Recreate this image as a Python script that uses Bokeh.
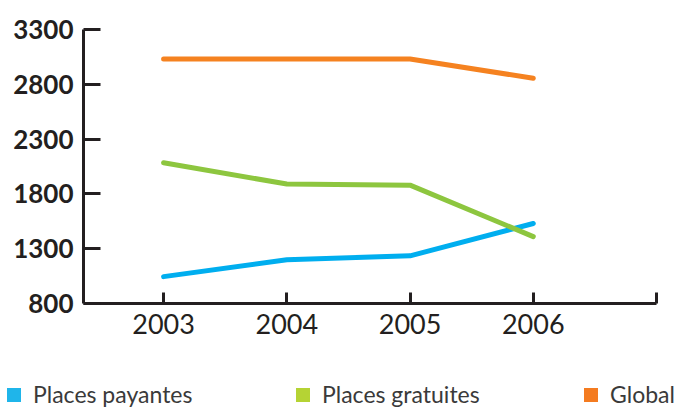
from bokeh.plotting import figure
from bokeh.models import FixedTicker, Range1d, Div
from bokeh.layouts import column
from bokeh.embed import file_html
from bokeh.resources import INLINE

years = [2003, 2004, 2005, 2006]
payantes = [1045, 1200, 1235, 1530]
gratuites = [2085, 1890, 1880, 1410]
global_vals = [3030, 3030, 3030, 2855]
y_ticks = [800, 1300, 1800, 2300, 2800, 3300]
x_ticks = [2003, 2004, 2005, 2006, 2007]
series_names = ["Places payantes", "Places gratuites", "Global"]
line_colors = ["#00aeef", "#8dc63f", "#f58220"]
legend_colors = ["#1fb5ea", "#b5d334", "#f47b20"]
legend_x = [7, 296, 584]  # swatch left edges (layout only)

FONT = "Lato"
INK = "#231f20"

p = figure(width=672, height=360, output_backend="svg", toolbar_location=None,
           x_range=Range1d(2002.35, 2007), y_range=Range1d(800, 3300),
           min_border_left=83, min_border_right=16, min_border_top=29, min_border_bottom=57)
p.outline_line_color = None
p.xgrid.visible = False
p.ygrid.visible = False

for vals, c in zip([payantes, gratuites, global_vals], line_colors):
    p.line(years, vals, line_color=c, line_width=5, line_cap="round", line_join="round")

xa = p.xaxis[0]
xa.ticker = FixedTicker(ticks=x_ticks)
xa.major_label_overrides = {2007: ""}
xa.major_tick_in = 11
xa.major_tick_out = 0
xa.minor_tick_line_color = None
xa.axis_line_width = 3
xa.axis_line_color = INK
xa.major_tick_line_width = 3
xa.major_tick_line_color = INK
xa.major_label_text_font = FONT
xa.major_label_text_font_size = "27px"
xa.major_label_text_color = INK
xa.major_label_standoff = 10

ya = p.yaxis[0]
ya.ticker = FixedTicker(ticks=y_ticks)
ya.major_tick_in = 17
ya.major_tick_out = 0
ya.minor_tick_line_color = None
ya.axis_line_width = 3
ya.axis_line_color = INK
ya.major_tick_line_width = 3
ya.major_tick_line_color = INK
ya.major_label_text_font = FONT
ya.major_label_text_font_size = "26px"
ya.major_label_text_font_style = "bold"
ya.major_label_text_color = INK
ya.major_label_standoff = 10

# legend row
parts = []
for name, c, x0 in zip(series_names, legend_colors, legend_x):
    parts.append(
        f'<span style="position:absolute;left:{x0}px;top:28px;width:14px;height:14px;'
        f'background:{c};"></span>'
        f'<span style="position:absolute;left:{x0 + 26}px;top:23px;font-family:Lato;'
        f'font-size:23px;line-height:23px;color:#3a3a3a;white-space:nowrap;">{name}</span>'
    )
html = ('<div style="position:relative;width:672px;height:42px;overflow:visible;">'
        + "".join(parts) + "</div>")
lg = Div(text=html, width=672, height=42, margin=(0, 0, 0, 0))

layout = column(p, lg, spacing=0)
open("out.html", "w").write(file_html(layout, INLINE))
